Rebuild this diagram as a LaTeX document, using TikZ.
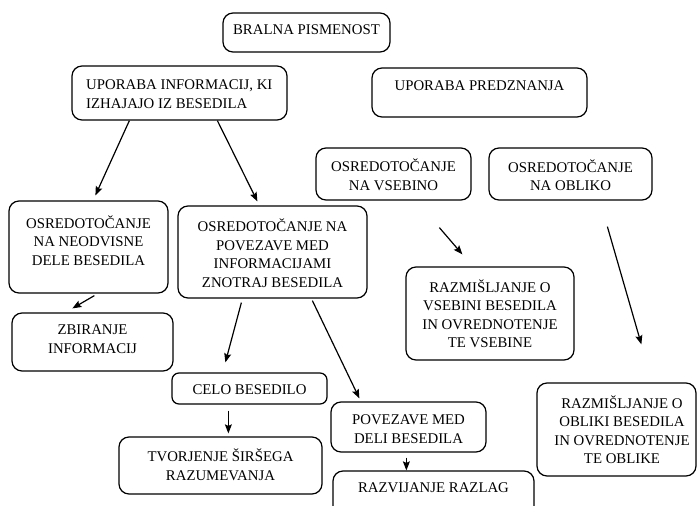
\documentclass[tikz,border=0pt]{standalone}
\usepackage{fontspec}
\setmainfont{Liberation Serif}
\usetikzlibrary{arrows.meta,calc}
\begin{document}
\begin{tikzpicture}[x=1pt,y=-1pt,
  box/.style={draw,line width=1.25pt,rounded corners=10pt,inner sep=0pt},
  txt/.style={font=\fontsize{14.8}{18.5}\selectfont,align=center,inner sep=0pt},
  arr/.style={line width=1.2pt,-{Stealth[length=9pt,width=7pt,inset=1.5pt]}}]
\useasboundingbox (0,0) rectangle (697,506);
% boxes
\node[box,minimum width=167pt,minimum height=39pt] (b1) at (306.5,32.5) {};
\node[box,minimum width=215pt,minimum height=54pt] (b2) at (179.5,93) {};
\node[box,minimum width=215pt,minimum height=49pt] (b3) at (479.5,92.5) {};
\node[box,minimum width=155pt,minimum height=52pt] (b4) at (393.5,174) {};
\node[box,minimum width=163pt,minimum height=52pt] (b5) at (570.5,174) {};
\node[box,minimum width=159pt,minimum height=92pt] (b6) at (88.5,247) {};
\node[box,minimum width=189pt,minimum height=92pt] (b7) at (272.5,252) {};
\node[box,minimum width=161pt,minimum height=58pt] (b8) at (92.5,342) {};
\node[box,minimum width=155pt,minimum height=31pt,rounded corners=7pt] (b9) at (249.5,388.5) {};
\node[box,minimum width=203pt,minimum height=57pt] (b10) at (220.5,465.5) {};
\node[box,minimum width=155pt,minimum height=50pt] (b11) at (408.5,427) {};
\node[box,minimum width=201pt,minimum height=60pt] (b12) at (433.5,501) {};
\node[box,minimum width=168pt,minimum height=93pt] (b13) at (490,313.5) {};
\node[box,minimum width=159pt,minimum height=93pt] (b14) at (616.5,429.5) {};
% texts
\node[txt] (t1) at (306.5,30) {BRALNA PISMENOST};
\node[txt,align=left,anchor=west] (t2) at (86,94) {UPORABA INFORMACIJ, KI\\IZHAJAJO IZ BESEDILA};
\node[txt] (t3) at (479.5,86) {UPORABA PREDZNANJA};
\node[txt] (t4) at (393.5,175) {OSREDOTOČANJE\\NA VSEBINO};
\node[txt] (t5) at (570.5,175) {OSREDOTOČANJE\\NA OBLIKO};
\node[txt] (t6) at (88.5,240.5) {OSREDOTOČANJE\\NA NEODVISNE\\DELE BESEDILA};
\node[txt] (t7) at (272.5,253) {OSREDOTOČANJE NA\\POVEZAVE MED\\INFORMACIJAMI\\ZNOTRAJ BESEDILA};
\node[txt] (t8) at (92.5,339) {ZBIRANJE\\INFORMACIJ};
\node[txt] (t9) at (249.5,390) {CELO BESEDILO};
\node[txt] (t10) at (220.5,465) {TVORJENJE ŠIRŠEGA\\RAZUMEVANJA};
\node[txt] (t11) at (408.5,429) {POVEZAVE MED\\DELI BESEDILA};
\node[txt] (t12) at (433.5,488) {RAZVIJANJE RAZLAG};
\node[txt] (t13) at (490,314) {RAZMIŠLJANJE O\\VSEBINI BESEDILA\\IN OVREDNOTENJE\\TE VSEBINE};
\node[txt] (t14) at (622,429.5) {RAZMIŠLJANJE O\\OBLIKI BESEDILA\\IN OVREDNOTENJE\\TE OBLIKE};
% arrows
\draw[arr] ($(b2.south west)+(58,0)$) -- ($(b6.north west)+(87,-5)$);
\draw[arr] ($(b2.south west)+(146,0)$) -- ($(b7.north west)+(80,-4)$);
\draw[arr] ($(b6.south west)+(86,2)$) -- ($(b8.north west)+(61,-4)$);
\draw[arr] ($(b7.south west)+(64,4)$) -- ($(b9.north west)+(54,-10)$);
\draw[arr] ($(b7.south west)+(135,2)$) -- ($(b11.north west)+(29,-3)$);
\draw[arr] ($(b9.south west)+(57,6)$) -- ($(b10.north west)+(110,-3)$);
\draw[arr] ($(b11.south west)+(76,5)$) -- ($(b12.north west)+(74,0)$);
\draw[arr] ($(b4.south west)+(124,27)$) -- ($(b13.north west)+(57,-12)$);
\draw[arr] ($(b5.south west)+(119,26)$) -- ($(b14.north west)+(105,-38)$);
\end{tikzpicture}
\end{document}
